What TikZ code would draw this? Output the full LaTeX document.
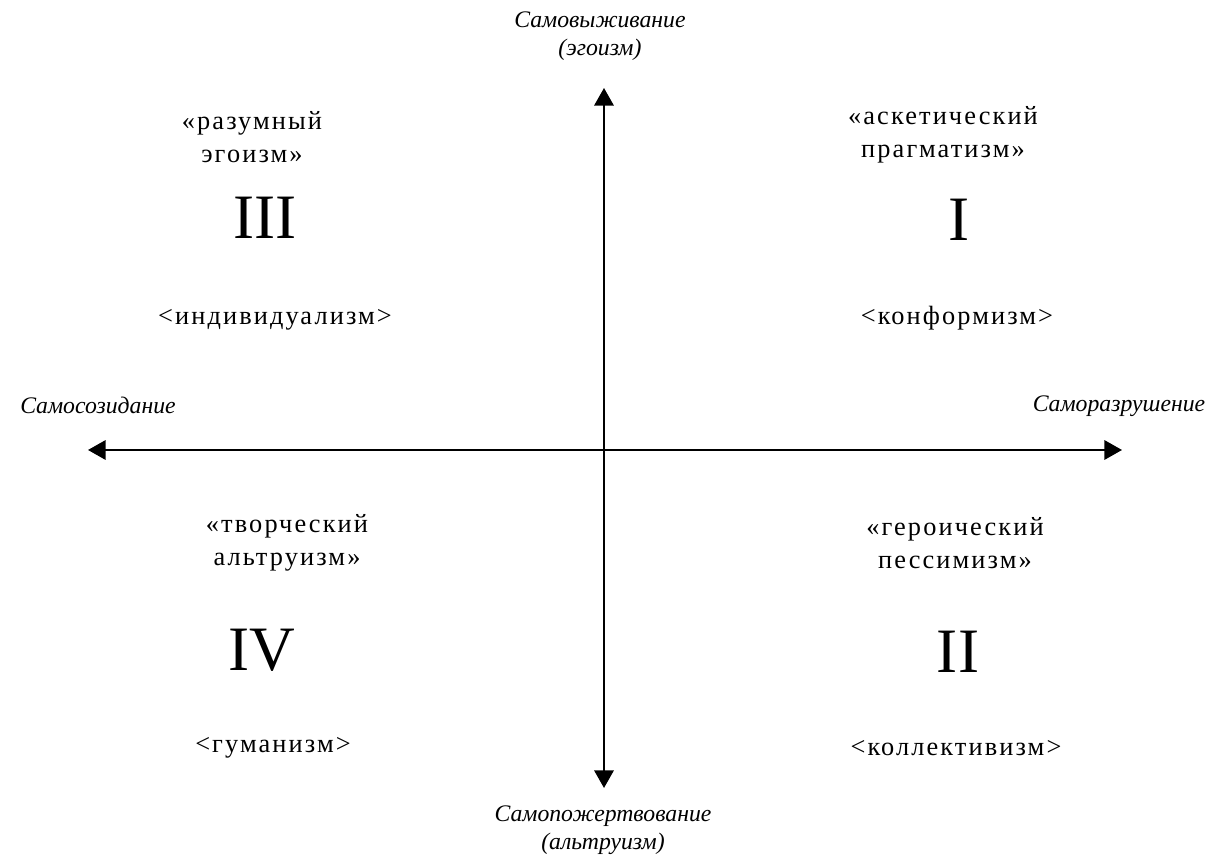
\documentclass[tikz,border=0pt]{standalone}
\usepackage{fontspec}
\setmainfont{Liberation Serif}
\newfontfamily\quadfont[LetterSpace=8]{Liberation Serif}
\usetikzlibrary{arrows.meta}

\tikzset{
    axis/.style={line width=1.2pt,
        {Triangle[length=10pt,width=11pt]}-{Triangle[length=10pt,width=11pt]}},
    axislabel/.style={font=\fontsize{13.5}{16}\selectfont\itshape,align=center,inner sep=0pt},
    quadtitle/.style={font=\quadfont\fontsize{15}{19}\selectfont,align=center,inner sep=0pt},
    quadnum/.style={font=\fontsize{36}{36}\selectfont,inner sep=0pt},
}

\begin{document}
\begin{tikzpicture}[x=0.02cm,y=-0.02cm]
    \useasboundingbox (0,0) rectangle (1215,857);
    \coordinate (O) at (604,450);
    \coordinate (N) at (604,88);
    \coordinate (S) at (604,788);
    \coordinate (W) at (88,450);
    \coordinate (E) at (1122,450);
    \draw[axis] (W) -- (E);
    \draw[axis] (S) -- (N);
    % axis labels
    \node[axislabel] (north) at (600,36) {Самовыживание\\(эгоизм)};
    \node[axislabel] (south) at (603,830) {Самопожертвование\\(альтруизм)};
    \node[axislabel] (west) at (98,405) {Самосозидание};
    \node[axislabel] (east) at (1119,406) {Саморазрушение};
    % quadrants
    \foreach \qid/\tx/\ty/\ttext/\nx/\ny/\num/\sx/\sy/\stext in {
        q3/252/137/{«разумный\\эгоизм»}/265/218/III/275/320/{<индивидуализм>},
        q1/943/135/{«аскетический\\прагматизм»}/959/220/I/957/318/{<конформизм>},
        q4/287/543/{«творческий\\альтруизм»}/262/650/IV/273/748/{<гуманизм>},
        q2/955/543/{«героический\\пессимизм»}/958/652/II/956/748/{<коллективизм>}}{
        \node[quadtitle] (\qid title) at (\tx,\ty) {\ttext};
        \node[quadnum] (\qid num) at (\nx,\ny) {\num};
        \node[quadtitle] (\qid sub) at (\sx,\sy) {\stext};
    }
\end{tikzpicture}
\end{document}
